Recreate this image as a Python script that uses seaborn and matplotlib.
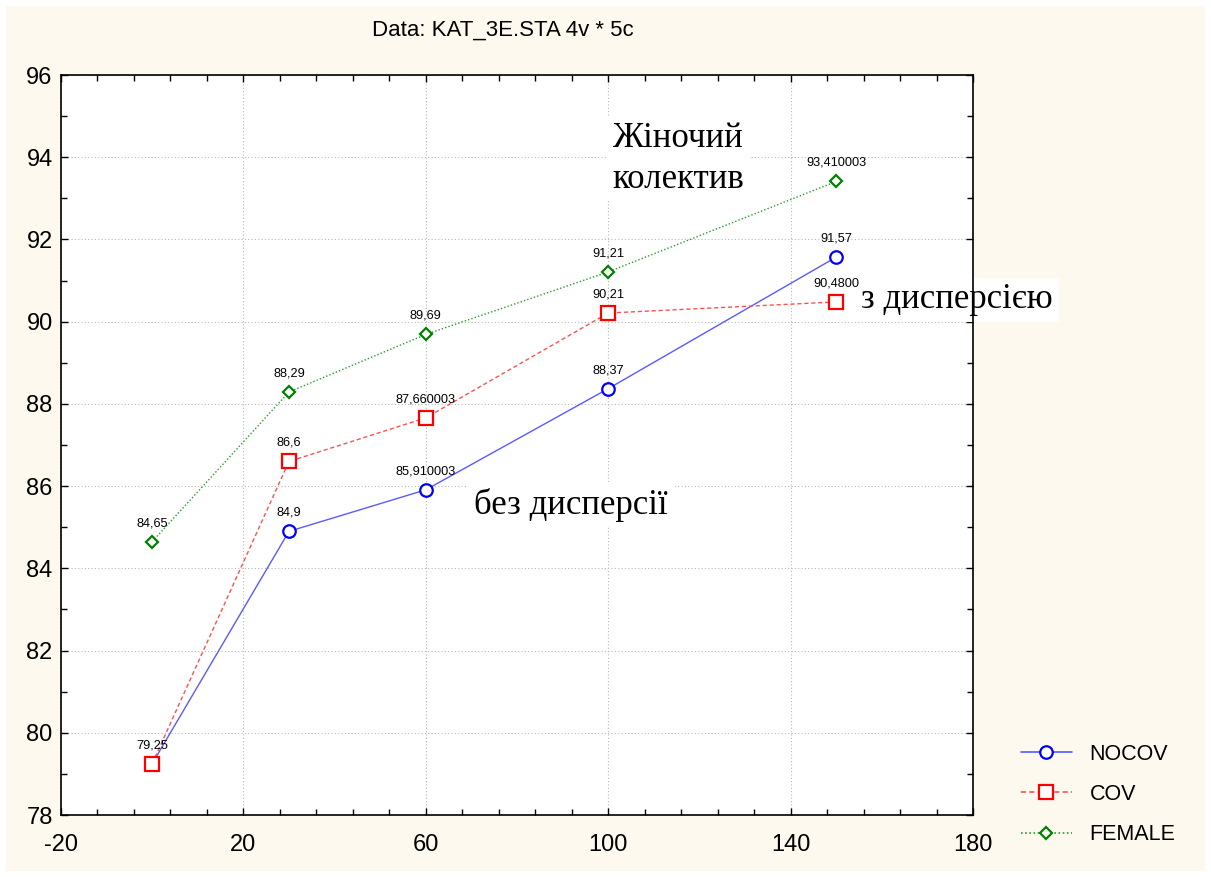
import matplotlib
matplotlib.use("Agg")
import matplotlib.pyplot as plt
import matplotlib.patches as patches
from matplotlib.lines import Line2D
import seaborn as sns
import pandas as pd

# chart values
x_vals = [0, 30, 60, 100, 150]
nocov = [79.25, 84.9, 85.910003, 88.37, 91.57]
cov = [79.25, 86.6, 87.660003, 90.21, 90.48]
female = [84.65, 88.29, 89.69, 91.21, 93.410003]
nocov_labels = ["", "84,9", "85,910003", "88,37", "91,57"]
cov_labels = ["79,25", "86,6", "87,660003", "90,21", "90,4800"]
female_labels = ["84,65", "88,29", "89,69", "91,21", "93,410003"]
x_ticks = [-20, 20, 60, 100, 140, 180]
y_ticks = [78, 80, 82, 84, 86, 88, 90, 92, 94, 96]

sns.set_theme(style="ticks")
plt.rcParams['font.family'] = ['Liberation Sans', 'DejaVu Sans']
plt.rcParams['axes.unicode_minus'] = False
plt.rcParams['text.color'] = 'black'

fig = plt.figure(figsize=(12.11, 8.77), dpi=100)
fig.patch.set_facecolor("white")
# cream panel behind everything
fig.patches.append(patches.Rectangle((6 / 1211, 6 / 877), 1199 / 1211, 865 / 877,
                                     transform=fig.transFigure, facecolor="#fdf9ee",
                                     edgecolor="none", zorder=-10))
ax = fig.add_axes([61 / 1211, 1 - 815 / 877, 912 / 1211, 740 / 877])
ax.set_facecolor("white")

series = [
    ("NOCOV", nocov, nocov_labels, "#0000ff", "#5a5aff", "-", "o", 9),
    ("COV", cov, cov_labels, "#ff0000", "#ff5050", (0, (3, 2)), "s", 9.5),
    ("FEMALE", female, female_labels, "#008000", "#2a9a2a", (0, (1, 1.5)), "D", 6.5),
]

handles = []
for name, vals, labs, mcol, lcol, ls, mk, ms in series:
    df = pd.DataFrame({"x": x_vals, "y": vals})
    sns.lineplot(data=df, x="x", y="y", ax=ax, color=lcol, linestyle=ls,
                 linewidth=1.0, zorder=3, legend=False)
    ax.plot(df["x"], df["y"], linestyle="none", marker=mk, markersize=ms,
            markerfacecolor="white", markeredgecolor=mcol,
            markeredgewidth=1.6, zorder=4)
    handles.append(Line2D([], [], color=lcol, linestyle=ls, linewidth=1.2, marker=mk,
                          markersize=ms, markerfacecolor="white", markeredgecolor=mcol,
                          markeredgewidth=1.6, label=name))
    for xv, yv, t in zip(x_vals, vals, labs):
        if t:
            ax.annotate(t, (xv, yv), xytext=(0, 9), textcoords="offset points",
                        ha="center", va="bottom", fontsize=9.2, color="black",
                        zorder=5)

ax.set_xlim(-20, 180)
ax.set_ylim(78, 96)
ax.set_xticks(x_ticks)
ax.set_xticks([v for v in range(-20, 181, 8) if v not in x_ticks], minor=True)
ax.set_yticks(y_ticks)
ax.set_yticks(range(79, 96, 2), minor=True)
ax.tick_params(which="both", direction="in", top=True, right=True, color="black",
               width=1.0, labelsize=17, labelcolor="black")
ax.tick_params(which="major", length=5)
ax.tick_params(which="minor", length=4)
ax.tick_params(axis="x", pad=14)
ax.tick_params(axis="y", pad=6)
ax.grid(True, which="major", linestyle=(0, (1, 2)), color="#b8b8b8", linewidth=0.8)
for s in ax.spines.values():
    s.set_color("black")
    s.set_linewidth(1.2)
ax.set_xlabel("")
ax.set_ylabel("")

fig.text(503 / 1211, 1 - 30 / 877, "Data: KAT_3E.STA 4v * 5c", ha="center",
         va="center", fontsize=16, color="black")

serif = ['Liberation Serif', 'DejaVu Serif']
box = dict(facecolor="white", edgecolor="none", pad=4)
ax.text(101, 94.85, "Жіночий\nколектив", family=serif, fontsize=25, color="black",
        ha="left", va="top", linespacing=1.3, bbox=box, zorder=2)
ax.text(70.5, 85.55, "без дисперсії", family=serif, fontsize=25, color="black",
        ha="left", va="center", bbox=box, zorder=2)
ax.text(155.5, 90.53, "з дисперсією", family=serif, fontsize=25, color="black",
        ha="left", va="center", bbox=box, zorder=2, clip_on=False)

leg = fig.legend(handles=handles, loc="upper left",
                 bbox_to_anchor=(1012 / 1211, 1 - 735 / 877),
                 frameon=False, fontsize=15.5, handlelength=2.4, labelspacing=0.9,
                 handletextpad=0.8, borderaxespad=0)
for t in leg.get_texts():
    t.set_color("black")

fig.savefig("out.png", dpi=100, facecolor=fig.get_facecolor())
